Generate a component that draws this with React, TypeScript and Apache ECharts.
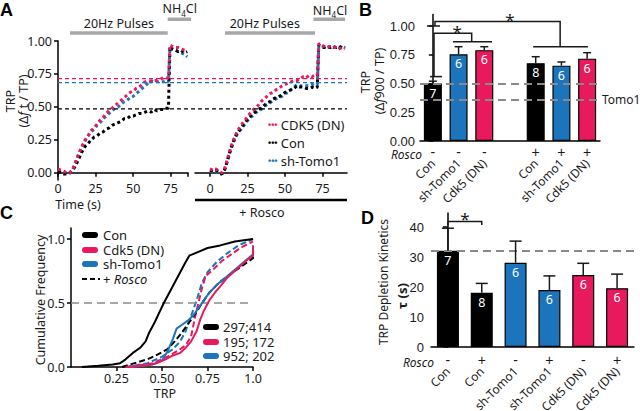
import React, { useEffect, useRef } from 'react';
import * as echarts from 'echarts';

const PINK = '#e8195d';
const BLUE = '#1c74bd';
const BLACK = '#000000';
const PULSE_GRAY = '#a8a8a8';
const REF_GRAY = '#8a8a8a';
const INK = '#1a1a1a';
const FONT = '"Noto Sans", "DejaVu Sans", sans-serif';
const ARIAL = '"Liberation Sans", Arial, sans-serif';

// ---------- Panel A (TRP traces) ----------
const tLeft = [0, 2, 4, 6, 8, 10, 12, 14, 16, 18, 20, 22, 24, 26, 28, 30, 32, 34, 36, 38, 40, 42, 44, 46, 48, 50, 52, 54, 56, 58, 60, 62, 64, 66, 68, 70, 72, 73.5, 74.5, 76, 78, 80, 82, 84, 86];
const conLeft = [0.01, 0.0, -0.01, -0.01, 0.0, 0.02, 0.06, 0.11, 0.16, 0.2, 0.22, 0.25, 0.27, 0.28, 0.3, 0.31, 0.33, 0.34, 0.36, 0.37, 0.38, 0.39, 0.41, 0.41, 0.43, 0.43, 0.44, 0.45, 0.45, 0.46, 0.47, 0.46, 0.48, 0.47, 0.48, 0.48, 0.49, 0.49, 0.96, 0.94, 0.93, 0.92, 0.93, 0.91, 0.92];
const cdk5Left = [0.03, 0.02, 0.01, 0.0, 0.0, 0.03, 0.09, 0.15, 0.2, 0.25, 0.28, 0.32, 0.34, 0.37, 0.4, 0.42, 0.45, 0.47, 0.49, 0.51, 0.53, 0.55, 0.57, 0.59, 0.61, 0.62, 0.64, 0.65, 0.67, 0.69, 0.7, 0.69, 0.7, 0.7, 0.71, 0.72, 0.72, 0.72, 0.97, 0.96, 0.95, 0.95, 0.94, 0.93, 0.92];
const tomoLeft = [0.02, 0.01, 0.0, -0.01, 0.0, 0.03, 0.09, 0.15, 0.2, 0.24, 0.28, 0.31, 0.33, 0.36, 0.38, 0.41, 0.43, 0.45, 0.47, 0.49, 0.5, 0.52, 0.54, 0.55, 0.57, 0.58, 0.6, 0.62, 0.64, 0.66, 0.68, 0.7, 0.69, 0.69, 0.69, 0.69, 0.7, 0.69, 0.95, 0.94, 0.93, 0.92, 0.91, 0.9, 0.88];

const tRight = [0, 2, 4, 6, 8, 10, 12, 14, 16, 18, 20, 22, 24, 26, 28, 30, 32, 34, 36, 38, 40, 42, 44, 46, 48, 50, 52, 54, 56, 58, 60, 62, 64, 66, 68, 70, 71.5, 72.5, 74, 76, 78, 80, 82, 84, 86, 88, 90];
const conRight = [0.02, 0.01, 0.02, 0.0, -0.01, 0.03, 0.11, 0.19, 0.25, 0.3, 0.33, 0.36, 0.39, 0.42, 0.44, 0.46, 0.48, 0.49, 0.51, 0.53, 0.54, 0.56, 0.57, 0.58, 0.59, 0.61, 0.62, 0.63, 0.64, 0.66, 0.65, 0.65, 0.64, 0.64, 0.65, 0.64, 0.65, 0.97, 0.96, 0.95, 0.96, 0.95, 0.96, 0.95, 0.96, 0.95, 0.95];
const cdk5Right = [0.03, 0.02, 0.03, 0.01, 0.0, 0.04, 0.12, 0.2, 0.26, 0.31, 0.35, 0.38, 0.41, 0.44, 0.47, 0.49, 0.51, 0.54, 0.56, 0.58, 0.6, 0.61, 0.63, 0.64, 0.66, 0.67, 0.68, 0.69, 0.7, 0.7, 0.71, 0.73, 0.72, 0.74, 0.73, 0.74, 0.74, 0.98, 0.97, 0.96, 0.95, 0.96, 0.95, 0.95, 0.94, 0.95, 0.94];
const tomoRight = [0.01, 0.0, 0.01, -0.01, -0.01, 0.03, 0.1, 0.18, 0.24, 0.29, 0.32, 0.35, 0.38, 0.41, 0.43, 0.45, 0.47, 0.48, 0.5, 0.52, 0.53, 0.55, 0.56, 0.57, 0.58, 0.6, 0.61, 0.63, 0.65, 0.67, 0.66, 0.66, 0.66, 0.66, 0.67, 0.66, 0.67, 0.96, 0.96, 0.96, 0.95, 0.96, 0.95, 0.96, 0.95, 0.96, 0.95];

const aRefLevels = [0.715, 0.684, 0.485]; // CDK5 (DN), sh-Tomo1, Con plateaus
const aRefColors = [PINK, BLUE, BLACK];
const aTicks = [0, 25, 50, 75];
const aYTicks = [0, 0.25, 0.5, 0.75, 1];

// ---------- Panel B ----------
const bNames = ['Con', 'sh-Tomo1', 'Cdk5 (DN)', '', 'Con', 'sh-Tomo1', 'Cdk5 (DN)'];
const bRosco = ['-', '-', '-', '', '+', '+', '+'];
const bMeans = [0.5, 0.754, 0.79, null, 0.676, 0.655, 0.716];
const bErrTop = [0.52, 0.82, 0.82, null, 0.733, 0.687, 0.768];
const bN = ['7', '6', '6', '', '8', '6', '6'];
const bColors = [BLACK, BLUE, PINK, BLACK, BLACK, BLUE, PINK];
const bRefLines = [0.496, 0.357];
const bYTicks = [0, 0.25, 0.5, 0.75, 1];

// ---------- Panel C (cumulative frequency) ----------
const cConSolid = [[0.06, 0], [0.15, 0.01], [0.23, 0.02], [0.27, 0.03], [0.3, 0.06], [0.34, 0.11], [0.38, 0.15], [0.41, 0.2], [0.43, 0.27], [0.46, 0.35], [0.49, 0.44], [0.51, 0.5], [0.54, 0.58], [0.57, 0.66], [0.6, 0.74], [0.63, 0.82], [0.65, 0.87], [0.7, 0.9], [0.75, 0.93], [0.82, 0.95], [0.9, 0.98], [1.0, 1.0]];
const cConRosco = [[0.28, 0], [0.35, 0.03], [0.42, 0.06], [0.48, 0.1], [0.53, 0.14], [0.57, 0.2], [0.61, 0.27], [0.65, 0.35], [0.69, 0.43], [0.72, 0.5], [0.76, 0.58], [0.8, 0.64], [0.85, 0.7], [0.9, 0.75], [0.95, 0.8], [1.0, 0.85], [1.0, 0.95]];
const cCdk5Solid = [[0.3, 0], [0.4, 0.01], [0.47, 0.03], [0.52, 0.06], [0.56, 0.09], [0.6, 0.11], [0.63, 0.15], [0.66, 0.2], [0.69, 0.28], [0.71, 0.37], [0.73, 0.44], [0.76, 0.52], [0.79, 0.58], [0.82, 0.63], [0.86, 0.7], [0.9, 0.75], [0.94, 0.8], [0.97, 0.84], [1.0, 0.87], [1.0, 0.95]];
const cCdk5Rosco = [[0.32, 0], [0.45, 0.03], [0.53, 0.08], [0.59, 0.13], [0.63, 0.17], [0.66, 0.24], [0.68, 0.38], [0.7, 0.5], [0.72, 0.62], [0.74, 0.71], [0.78, 0.76], [0.83, 0.83], [0.88, 0.88], [0.93, 0.93], [0.97, 0.96], [1.0, 0.98]];
const cTomoSolid = [[0.33, 0], [0.45, 0.02], [0.5, 0.05], [0.53, 0.12], [0.56, 0.22], [0.58, 0.3], [0.61, 0.33], [0.64, 0.36], [0.67, 0.4], [0.7, 0.46], [0.73, 0.52], [0.76, 0.58], [0.8, 0.64], [0.85, 0.7], [0.9, 0.76], [0.95, 0.82], [1.0, 0.88], [1.0, 0.95]];
const cTomoRosco = [[0.3, 0], [0.42, 0.03], [0.5, 0.08], [0.56, 0.14], [0.6, 0.2], [0.63, 0.28], [0.66, 0.4], [0.69, 0.52], [0.72, 0.66], [0.75, 0.74], [0.8, 0.82], [0.86, 0.89], [0.92, 0.95], [0.97, 0.98], [1.0, 1.0]];
const cXTicks = [0.25, 0.5, 0.75, 1];
const cYTicks = [0, 0.5, 1];
const cCounts = ['297;414', '195; 172', '952; 202'];

// ---------- Panel D (depletion kinetics) ----------
const dNames = ['Con', 'Con', 'sh-Tomo1', 'sh-Tomo1', 'Cdk5 (DN)', 'Cdk5 (DN)'];
const dRosco = ['-', '+', '-', '+', '-', '+'];
const dMeans = [32.1, 18.1, 28.1, 19.0, 24.0, 19.6];
const dErrTop = [39.6, 21.2, 35.3, 23.7, 27.9, 24.3];
const dN = ['7', '8', '6', '6', '6', '6'];
const dColors = [BLACK, BLACK, BLUE, BLUE, PINK, PINK];
const dRefLine = 32.1;
const dYTicks = [0, 10, 20, 30, 40];

const axisLine = { show: true, lineStyle: { color: '#000', width: 1.5 } };
const noSplit = { show: false };

function tickLabel(size: number, family: string) {
  return { fontSize: size, fontFamily: family, color: INK };
}

function traceSeries(xi: number, ts: number[], vs: number[], color: string, z: number) {
  return {
    type: 'line',
    xAxisIndex: xi,
    yAxisIndex: xi,
    data: ts.map((t, i) => [t, vs[i]]),
    showSymbol: false,
    lineStyle: { color, width: 3, type: 'dotted' },
    z,
    silent: true,
  };
}

type Ann = { pts: number[][]; color?: string; width?: number };
type AnnText = { x: number; y: number; text: string; size?: number; rich?: any };

function annotationSeries(xi: number, yi: number, lines: Ann[], texts: AnnText[]) {
  return {
    type: 'custom',
    xAxisIndex: xi,
    yAxisIndex: yi,
    data: [[0, 0]],
    clip: false,
    silent: true,
    z: 20,
    renderItem: (_params: any, api: any) => ({
      type: 'group',
      children: [
        ...lines.map((l) => ({
          type: 'polyline',
          shape: { points: l.pts.map((p) => api.coord(p)) },
          style: { stroke: l.color || INK, lineWidth: l.width || 1.5, fill: 'none' },
        })),
        ...texts.map((t) => {
          const c = api.coord([t.x, t.y]);
          return {
            type: 'text',
            x: c[0],
            y: c[1],
            style: {
              text: t.text,
              rich: t.rich,
              fontSize: t.size || 12.5,
              fontFamily: FONT,
              fill: INK,
              align: 'center',
              verticalAlign: 'middle',
            },
          };
        }),
      ],
    }),
  };
}

function errorSeries(xi: number, yi: number, means: (number | null)[], tops: (number | null)[], cap: number) {
  const data = means
    .map((m, i) => (m == null ? null : [i, m, tops[i] as number]))
    .filter((d) => d != null);
  return {
    type: 'custom',
    xAxisIndex: xi,
    yAxisIndex: yi,
    data,
    silent: true,
    z: 5,
    renderItem: (_params: any, api: any) => {
      const p0 = api.coord([api.value(0), api.value(1)]);
      const p1 = api.coord([api.value(0), api.value(2)]);
      const st = { stroke: INK, lineWidth: 1.5 };
      return {
        type: 'group',
        children: [
          { type: 'line', shape: { x1: p0[0], y1: p0[1], x2: p1[0], y2: p1[1] }, style: st },
          { type: 'line', shape: { x1: p1[0] - cap, y1: p1[1], x2: p1[0] + cap, y2: p1[1] }, style: st },
        ],
      };
    },
  };
}

const NH4 = {
  text: '{a|NH}{s|4}{a|Cl}',
  rich: { a: { fontSize: 12.5, fontFamily: FONT, fill: INK }, s: { fontSize: 8, fontFamily: FONT, fill: INK, padding: [9, 0, 0, 0] } },
};

function buildOption(): any {
  const series: any[] = [];

  // Panel A traces
  series.push(traceSeries(0, tLeft, tomoLeft, BLUE, 2));
  series.push(traceSeries(0, tLeft, conLeft, BLACK, 3));
  series.push(traceSeries(0, tLeft, cdk5Left, PINK, 4));
  series.push(traceSeries(1, tRight, tomoRight, BLUE, 2));
  series.push(traceSeries(1, tRight, conRight, BLACK, 3));
  series.push(traceSeries(1, tRight, cdk5Right, PINK, 4));
  aRefLevels.forEach((lv, i) => {
    series.push({
      type: 'line',
      xAxisIndex: 2,
      yAxisIndex: 2,
      data: [[0, lv], [1, lv]],
      showSymbol: false,
      lineStyle: { color: aRefColors[i], width: 1.2, type: [4, 3] },
      z: 6,
      silent: true,
    });
  });
  series.push(
    annotationSeries(0, 0,
      [
        { pts: [[8, 1.06], [73, 1.06]], color: PULSE_GRAY, width: 3.5 },
        { pts: [[73, 1.165], [88.5, 1.165]], color: PULSE_GRAY, width: 3.5 },
      ],
      [
        { x: 40.5, y: 1.13, text: '20Hz Pulses' },
        { x: 81, y: 1.245, text: NH4.text, rich: NH4.rich },
      ])
  );
  series.push(
    annotationSeries(1, 1,
      [
        { pts: [[10, 1.06], [70, 1.06]], color: PULSE_GRAY, width: 3.5 },
        { pts: [[69, 1.165], [90, 1.165]], color: PULSE_GRAY, width: 3.5 },
      ],
      [
        { x: 36.5, y: 1.13, text: '20Hz Pulses' },
        { x: 80, y: 1.235, text: NH4.text, rich: NH4.rich },
      ])
  );

  // Panel B bars
  series.push({
    type: 'bar',
    xAxisIndex: 3,
    yAxisIndex: 3,
    barWidth: 18,
    data: bMeans.map((v, i) => (v == null ? '-' : { value: v, itemStyle: { color: bColors[i] } })),
    itemStyle: { borderColor: '#000', borderWidth: 1.2 },
    label: {
      show: true,
      position: 'insideTop',
      distance: 3,
      color: '#fff',
      fontSize: 12.5,
      fontFamily: FONT,
      formatter: (p: any) => bN[p.dataIndex],
    },
    markLine: {
      silent: true,
      symbol: ['none', 'none'],
      lineStyle: { color: REF_GRAY, type: [8, 5], width: 1.8 },
      label: { show: false },
      data: [
        { yAxis: bRefLines[0] },
        {
          yAxis: bRefLines[1],
          label: { show: true, position: 'end', formatter: 'Tomo1', color: INK, fontSize: 12, fontFamily: FONT, distance: 2 },
        },
      ],
    },
    z: 3,
  });
  series.push(errorSeries(5, 3, bMeans, bErrTop, 4));
  series.push(
    annotationSeries(5, 3,
      [
        { pts: [[-0.11, 0.56], [0.356, 0.56]] },
        { pts: [[0.045, 0.56], [0.045, 0.937], [1.51, 0.937], [1.51, 0.863]] },
        { pts: [[0.78, 0.863], [2.3, 0.863]] },
        { pts: [[-0.228, 1.0], [0.278, 1.0]] },
        { pts: [[0.083, 1.0], [0.083, 1.04], [4.95, 1.04], [4.95, 0.82]] },
        { pts: [[3.9, 0.82], [6.03, 0.82]] },
      ],
      [
        { x: 0.95, y: 0.955, text: '*', size: 17 },
        { x: 3.0, y: 1.06, text: '*', size: 17 },
      ])
  );

  // Panel C curves
  const cLine = (data: number[][], color: string, dashed: boolean, z: number) => ({
    type: 'line',
    xAxisIndex: 6,
    yAxisIndex: 4,
    data,
    showSymbol: false,
    lineStyle: { color, width: 2, type: dashed ? [6, 3] : 'solid' },
    z,
    silent: true,
  });
  const cRef = cLine(cConRosco, BLACK, true, 4) as any;
  cRef.markLine = {
    silent: true,
    symbol: ['none', 'none'],
    lineStyle: { color: REF_GRAY, type: [8, 5], width: 1.6 },
    label: { show: false },
    data: [{ yAxis: 0.5 }],
  };
  series.push(cLine(cTomoRosco, BLUE, true, 3));
  series.push(cLine(cCdk5Rosco, PINK, true, 3));
  series.push(cRef);
  series.push(cLine(cTomoSolid, BLUE, false, 5));
  series.push(cLine(cCdk5Solid, PINK, false, 5));
  series.push(cLine(cConSolid, BLACK, false, 6));

  // Panel D bars
  series.push({
    type: 'bar',
    xAxisIndex: 7,
    yAxisIndex: 5,
    barWidth: 22,
    data: dMeans.map((v, i) => ({ value: v, itemStyle: { color: dColors[i] } })),
    itemStyle: { borderColor: '#000', borderWidth: 1.2 },
    label: {
      show: true,
      position: 'insideTop',
      distance: 3,
      color: '#fff',
      fontSize: 12.5,
      fontFamily: FONT,
      formatter: (p: any) => dN[p.dataIndex],
    },
    markLine: {
      silent: true,
      symbol: ['none', 'none'],
      lineStyle: { color: REF_GRAY, type: [8, 5], width: 1.8 },
      label: { show: false },
      data: [{ yAxis: dRefLine }],
    },
    z: 3,
  });
  series.push(errorSeries(9, 5, dMeans, dErrTop, 6));
  series.push(
    annotationSeries(9, 5,
      [{ pts: [[0, 40.7], [0, 41.8], [1, 41.8], [1, 40.7]] }],
      [{ x: 0.5, y: 43.0, text: '*', size: 17 }])
  );

  const valueX = (gridIndex: number, min: number, max: number, ticks: number[], labels: number[], fmt?: (v: number) => string, family = FONT, size = 12.5, margin = 4) => ({
    type: 'value',
    gridIndex,
    min,
    max,
    axisLine,
    axisTick: { show: true, length: 4, lineStyle: { color: '#000', width: 1.5 }, customValues: ticks },
    axisLabel: { ...tickLabel(size, family), margin, customValues: labels, formatter: fmt || ((v: number) => String(v)) },
    splitLine: noSplit,
  });

  const hidden = (gridIndex: number, min: number, max: number) => ({ type: 'value', gridIndex, min, max, show: false, splitLine: noSplit });

  const catAxis = (gridIndex: number, data: string[], offset: number, rotate: number, showLine: boolean, margin: number, size: number, family: string) => ({
    type: 'category',
    gridIndex,
    data,
    position: 'bottom',
    offset,
    axisLine: showLine ? axisLine : { show: false },
    axisTick: { show: false },
    axisLabel: { ...tickLabel(size, family), rotate, margin, interval: 0 },
    splitLine: noSplit,
  });

  const xAxis = [
    valueX(0, 0, 86.5, [0, 25, 50, 75, 86.5], aTicks, undefined, FONT, 12.5, 2),
    valueX(1, -10, 91.3, aTicks, aTicks, undefined, FONT, 12.5, 2),
    hidden(2, 0, 1),
    catAxis(3, bRosco, 0, 0, true, 4, 14, ARIAL),
    catAxis(3, bNames, 14, 45, false, 6, 12, FONT),
    hidden(3, -0.5, 6.5),
    valueX(4, 0, 1, cXTicks, cXTicks, (v: number) => (v === 1 ? '1.0' : v.toFixed(2)), FONT, 12.5, 5),
    catAxis(5, dRosco, 0, 0, true, 6, 14, ARIAL),
    catAxis(5, dNames, 16, 45, false, 6, 12, FONT),
    hidden(5, -0.5, 5.5),
  ];

  const valueY = (gridIndex: number, min: number, max: number, ticks: number[], fmt: (v: number) => string, family: string, size: number, margin: number, tickLen = 4) => ({
    type: 'value',
    gridIndex,
    min,
    max,
    axisLine,
    axisTick: { show: true, length: tickLen, lineStyle: { color: '#000', width: 1.5 }, customValues: ticks },
    axisLabel: { ...tickLabel(size, family), margin, customValues: ticks, formatter: fmt },
    splitLine: noSplit,
  });

  const yAxis = [
    valueY(0, -0.055, 1, aYTicks, (v) => v.toFixed(2), FONT, 12.5, 6),
    hidden(1, -0.055, 1),
    hidden(2, -0.055, 1),
    valueY(3, 0, 1.1, bYTicks, (v) => v.toFixed(2), ARIAL, 13, 5),
    valueY(4, 0, 1.086, cYTicks, (v) => v.toFixed(1), FONT, 12.5, 6),
    valueY(5, 0, 44.67, dYTicks, (v) => String(v), ARIAL, 13, 7, 5),
  ];

  const T = (x: number, y: number, text: string, opts: any = {}) => ({
    type: 'text',
    x,
    y,
    rotation: opts.rotation || 0,
    silent: true,
    style: {
      text,
      rich: opts.rich,
      fontSize: opts.size || 12.5,
      fontFamily: opts.family || FONT,
      fontWeight: opts.weight || 'normal',
      fontStyle: opts.style || 'normal',
      fill: opts.fill || INK,
      align: opts.align || 'center',
      verticalAlign: opts.valign || 'middle',
    },
  });

  const legendDots = (y: number, color: string, label: string) =>
    T(268, y, `{d|•••} {t|${label}}`, {
      align: 'left',
      rich: {
        d: { fontSize: 9, fill: color, fontFamily: ARIAL, fontWeight: 'bold' },
        t: { fontSize: 13, fill: INK, fontFamily: FONT },
      },
    });

  const pill = (x: number, y: number, color: string) => ({
    type: 'rect',
    silent: true,
    shape: { x, y: y - 3, width: 16, height: 6, r: 3 },
    style: { fill: color },
  });

  const graphic = [
    // panel letters
    T(0, 1, 'A', { align: 'left', valign: 'top', size: 18, weight: 'bold', family: ARIAL, fill: '#000' }),
    T(359, 1, 'B', { align: 'left', valign: 'top', size: 18, weight: 'bold', family: ARIAL, fill: '#000' }),
    T(0, 204, 'C', { align: 'left', valign: 'top', size: 18, weight: 'bold', family: ARIAL, fill: '#000' }),
    T(361, 209, 'D', { align: 'left', valign: 'top', size: 18, weight: 'bold', family: ARIAL, fill: '#000' }),

    // panel A titles & legend
    T(10, 101, 'TRP', { rotation: Math.PI / 2, size: 12.5 }),
    T(23, 101, '(Δ{i|f} t / TP)', { rotation: Math.PI / 2, size: 12.5, rich: { i: { fontStyle: 'italic', fontSize: 12.5, fontFamily: FONT, fill: INK } } }),
    T(78, 204, 'Time (s)', { size: 12.5 }),
    legendDots(125, PINK, 'CDK5 (DN)'),
    legendDots(143, BLACK, 'Con'),
    legendDots(161, BLUE, 'sh-Tomo1'),
    { type: 'line', silent: true, shape: { x1: 195, y1: 200, x2: 347, y2: 200 }, style: { stroke: '#000', lineWidth: 2.5 } },
    T(262, 212, '+ Rosco', { size: 12.5 }),

    // panel B titles
    T(365, 82, 'TRP', { rotation: Math.PI / 2, size: 12.5 }),
    T(379, 81, '(Δ{i|f}900 / TP)', { rotation: Math.PI / 2, size: 12.5, rich: { i: { fontStyle: 'italic', fontSize: 12.5, fontFamily: FONT, fill: INK } } }),
    T(422, 154, 'Rosco', { align: 'right', style: 'italic', size: 12 }),

    // panel C titles & legends
    T(40, 300, 'Cumulative Frequency', { rotation: Math.PI / 2, size: 12.5 }),
    T(165, 393, 'TRP', { size: 12.5 }),
    pill(82, 235, BLACK),
    pill(82, 250, PINK),
    pill(82, 264, BLUE),
    { type: 'line', silent: true, shape: { x1: 82, y1: 279, x2: 100, y2: 279 }, style: { stroke: '#000', lineWidth: 2, lineDash: [5, 3] } },
    T(103, 235, 'Con', { align: 'left', size: 13 }),
    T(103, 250, 'Cdk5 (DN)', { align: 'left', size: 13 }),
    T(103, 264, 'sh-Tomo1', { align: 'left', size: 13 }),
    T(103, 279, '+ {i|Rosco}', { align: 'left', size: 13, rich: { i: { fontStyle: 'italic', fontSize: 13, fontFamily: FONT, fill: INK } } }),
    pill(203, 327, BLACK),
    pill(203, 342, PINK),
    pill(203, 356, BLUE),
    T(223, 327, cCounts[0], { align: 'left', size: 13 }),
    T(223, 342, cCounts[1], { align: 'left', size: 13 }),
    T(223, 356, cCounts[2], { align: 'left', size: 13 }),

    // panel D titles
    T(383, 282, 'TRP Depletion Kinetics', { rotation: Math.PI / 2, size: 12 }),
    T(402, 296, 'τ (s)', { rotation: Math.PI / 2, size: 13, weight: 'bold' }),
    T(434, 362, 'Rosco', { align: 'right', style: 'italic', size: 12 }),
  ];

  return {
    animation: false,
    backgroundColor: '#ffffff',
    textStyle: { fontFamily: FONT },
    grid: [
      { left: 58, top: 41, width: 130, height: 139, outerBoundsMode: 'none' },
      { left: 195, top: 41, width: 152, height: 139, outerBoundsMode: 'none' },
      { left: 58, top: 41, width: 289, height: 139, outerBoundsMode: 'none' },
      { left: 420, top: 14.5, width: 180, height: 126.5, outerBoundsMode: 'none' },
      { left: 71, top: 228, width: 182, height: 139, outerBoundsMode: 'none' },
      { left: 431, top: 213, width: 203, height: 134, outerBoundsMode: 'none' },
    ],
    xAxis,
    yAxis,
    series,
    graphic,
  };
}

export default function App() {
  const ref = useRef<HTMLDivElement>(null);
  useEffect(() => {
    const chart = echarts.init(ref.current as HTMLDivElement, null, { renderer: 'svg' });
    chart.setOption(buildOption());
    return () => chart.dispose();
  }, []);
  return (
    <div
      ref={ref}
      style={{ position: 'absolute', left: 0, top: 0, width: 640, height: 411, background: '#fff' }}
    />
  );
}
